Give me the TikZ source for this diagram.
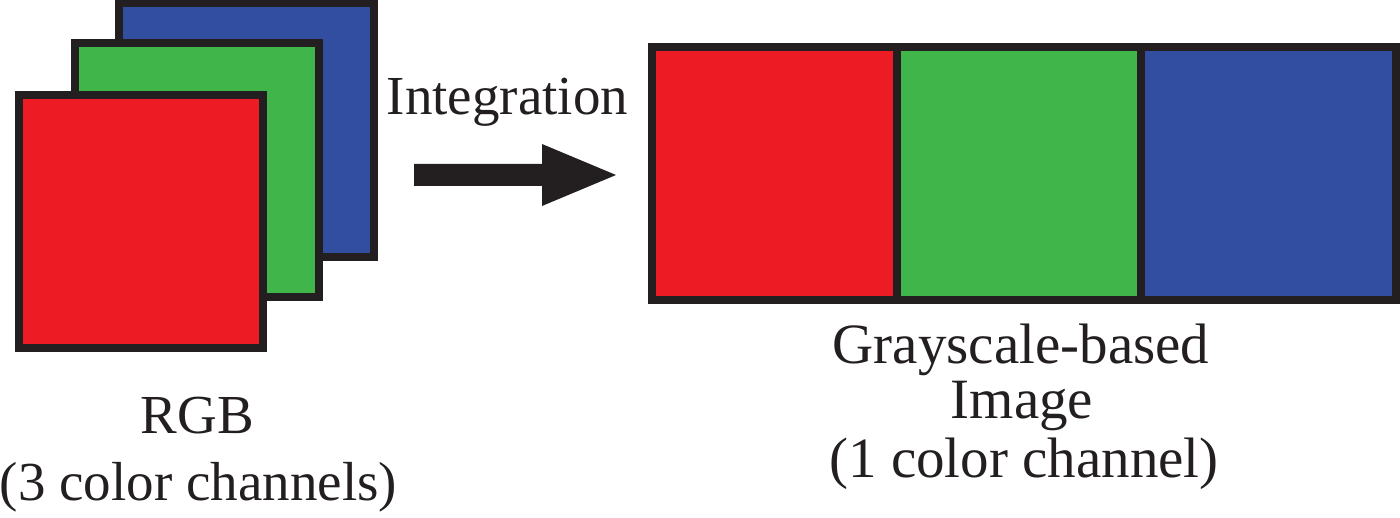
\documentclass[tikz,border=0pt]{standalone}
\usepackage{fontspec}
\setmainfont{Liberation Serif}
\definecolor{cred}{HTML}{ED1C24}
\definecolor{cgreen}{HTML}{40B54A}
\definecolor{cblue}{HTML}{324EA0}
\definecolor{cborder}{HTML}{231F20}
\tikzset{
  chan/.style={draw=cborder, line width=8pt, line join=miter},
  lbl/.style={anchor=base, inner sep=0pt, font=\fontsize{55}{60}\selectfont, text=cborder},
  lblr/.style={lbl, font=\fontsize{57}{60}\selectfont},
}
\begin{document}
\begin{tikzpicture}[x=1pt, y=-1pt]
\useasboundingbox (0,0) rectangle (1400,518);
% stacked channels
\filldraw[chan, fill=cblue] (119,3) rectangle (374,257);
\filldraw[chan, fill=cgreen] (75,43) rectangle (319,297);
\filldraw[chan, fill=cred] (19,95) rectangle (263,348);
% strip
\filldraw[chan, fill=cred] (652,47) rectangle (897,300);
\filldraw[chan, fill=cgreen] (897,47) rectangle (1141,300);
\filldraw[chan, fill=cblue] (1141,47) rectangle (1396,300);
% arrow
\coordinate (as) at (414,175);
\coordinate (at) at (616,175);
\fill[cborder] (414,164) -- (542,164) -- (542,144) -- (at) -- (542,206) -- (542,186) -- (414,186) -- cycle;
% labels
\node[lbl] (integ) at (507.5,115) {Integration};
\node[lbl] (rgb) at (197.5,433) {RGB};
\node[lbl] (rgb2) at (198.5,500) {(3 color channels)};
\node[lblr] (gs1) at (1021,364) {Grayscale-based};
\node[lblr] (gs2) at (1022,418) {Image};
\node[lblr] (gs3) at (1024,477) {(1 color channel)};
\end{tikzpicture}
\end{document}
